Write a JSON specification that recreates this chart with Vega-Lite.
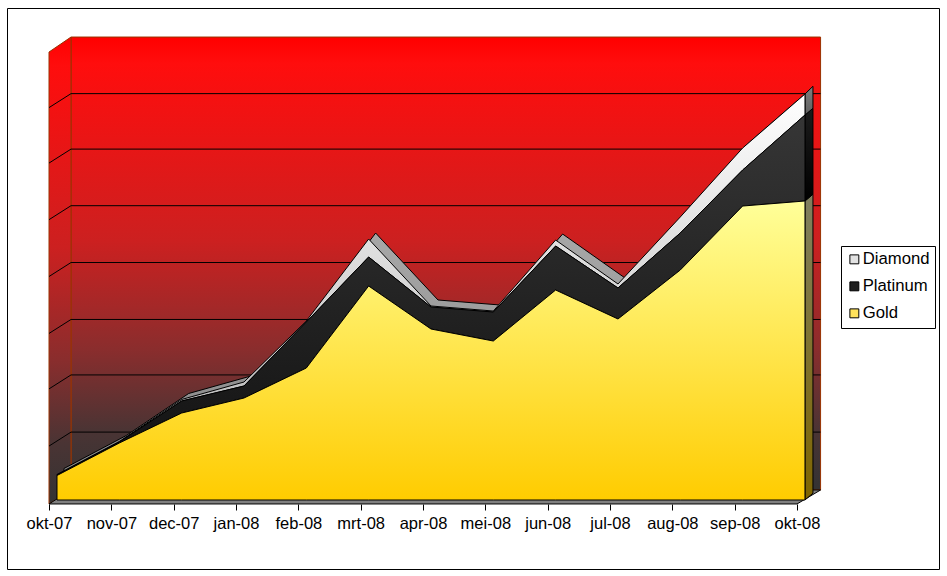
{
"$schema":"https://vega.github.io/schema/vega-lite/v6.json",
"width":932,"height":561,
"padding":{"left":7,"top":8,"right":8,"bottom":7},
"autosize":{"type":"none"},
"background":"white",
"config":{"view":{"stroke":"black","strokeWidth":1},"font":"Liberation Sans"},
"datasets":{
"stack":[
{"x":0,"series":"Gold","rank":1,"value":0.433},{"x":1,"series":"Gold","rank":1,"value":1.007},{"x":2,"series":"Gold","rank":1,"value":1.537},{"x":3,"series":"Gold","rank":1,"value":1.802},{"x":4,"series":"Gold","rank":1,"value":2.332},{"x":5,"series":"Gold","rank":1,"value":3.781},{"x":6,"series":"Gold","rank":1,"value":3.021},{"x":7,"series":"Gold","rank":1,"value":2.809},{"x":8,"series":"Gold","rank":1,"value":3.71},{"x":9,"series":"Gold","rank":1,"value":3.198},{"x":10,"series":"Gold","rank":1,"value":4.064},{"x":11,"series":"Gold","rank":1,"value":5.194},{"x":12,"series":"Gold","rank":1,"value":5.283},
{"x":0,"series":"Platinum","rank":2,"value":0.009},{"x":1,"series":"Platinum","rank":2,"value":0.018},{"x":2,"series":"Platinum","rank":2,"value":0.212},{"x":3,"series":"Platinum","rank":2,"value":0.212},{"x":4,"series":"Platinum","rank":2,"value":0.813},{"x":5,"series":"Platinum","rank":2,"value":0.512},{"x":6,"series":"Platinum","rank":2,"value":0.389},{"x":7,"series":"Platinum","rank":2,"value":0.512},{"x":8,"series":"Platinum","rank":2,"value":0.777},{"x":9,"series":"Platinum","rank":2,"value":0.548},{"x":10,"series":"Platinum","rank":2,"value":0.654},{"x":11,"series":"Platinum","rank":2,"value":0.636},{"x":12,"series":"Platinum","rank":2,"value":1.519},
{"x":0,"series":"Diamond","rank":3,"value":0.009},{"x":1,"series":"Diamond","rank":3,"value":0.009},{"x":2,"series":"Diamond","rank":3,"value":0.027},{"x":3,"series":"Diamond","rank":3,"value":0.071},{"x":4,"series":"Diamond","rank":3,"value":0.018},{"x":5,"series":"Diamond","rank":3,"value":0.318},{"x":6,"series":"Diamond","rank":3,"value":0.018},{"x":7,"series":"Diamond","rank":3,"value":0.018},{"x":8,"series":"Diamond","rank":3,"value":0.106},{"x":9,"series":"Diamond","rank":3,"value":0.071},{"x":10,"series":"Diamond","rank":3,"value":0.283},{"x":11,"series":"Diamond","rank":3,"value":0.389},{"x":12,"series":"Diamond","rank":3,"value":0.371}
],
"grid":[
{"k":1,"x":-0.128,"y":0.953},{"k":1,"x":0.225,"y":1.2},{"k":1,"x":12.25,"y":1.2},
{"k":2,"x":-0.128,"y":1.963},{"k":2,"x":0.225,"y":2.21},{"k":2,"x":12.25,"y":2.21},
{"k":3,"x":-0.128,"y":2.943},{"k":3,"x":0.225,"y":3.19},{"k":3,"x":12.25,"y":3.19},
{"k":4,"x":-0.128,"y":3.949},{"k":4,"x":0.225,"y":4.196},{"k":4,"x":12.25,"y":4.196},
{"k":5,"x":-0.128,"y":4.953},{"k":5,"x":0.225,"y":5.2},{"k":5,"x":12.25,"y":5.2},
{"k":6,"x":-0.128,"y":5.953},{"k":6,"x":0.225,"y":6.2},{"k":6,"x":12.25,"y":6.2},
{"k":7,"x":-0.128,"y":6.933},{"k":7,"x":0.225,"y":7.18},{"k":7,"x":12.25,"y":7.18}
]
},
"encoding":{
"x":{"field":"x","type":"quantitative","title":null,"scale":{"domain":[-0.802,14.15],"nice":false,"zero":false},
"axis":{"values":[-0.128,0.872,1.872,2.872,3.872,4.872,5.872,6.872,7.872,8.872,9.872,10.872,11.872],"offset":-65,"grid":false,"domain":false,"ticks":true,"tickSize":6,"tickColor":"black","labelFont":"Liberation Sans","labelFontSize":16.5,"labelColor":"black","labelPadding":5,"labelOverlap":false,"labelExpr":"['okt-07','nov-07','dec-07','jan-08','feb-08','mrt-08','apr-08','mei-08','jun-08','jul-08','aug-08','sep-08','okt-08'][round(datum.value+0.128)]"}},
"y":{"field":"y","type":"quantitative","title":null,"scale":{"domain":[-1.219,8.693],"nice":false,"zero":false},"axis":null}
},
"layer":[
{"data":{"values":[{"x":0.225,"x2":12.25,"y":8.18,"y2":0.177}]},
"mark":{"type":"rect","stroke":"#993300","strokeWidth":1,"fill":{"gradient":"linear","x1":0,"y1":0,"x2":0,"y2":1,"stops":[{"offset":0,"color":"#ff0000"},{"offset":0.06,"color":"#ff0d0d"},{"offset":0.45,"color":"#cc2020"},{"offset":0.69,"color":"#8a2d2d"},{"offset":0.87,"color":"#4a3434"},{"offset":1,"color":"#333333"}]}},
"encoding":{"x2":{"field":"x2"},"y2":{"field":"y2"}}},
{"data":{"values":[{"x":-0.128,"y":7.915,"y2":-0.07},{"x":0.225,"y":8.18,"y2":0.177}]},
"mark":{"type":"area","stroke":"#993300","strokeWidth":1,"fill":{"gradient":"linear","x1":0,"y1":0,"x2":0,"y2":1,"stops":[{"offset":0,"color":"#ff0000"},{"offset":0.06,"color":"#ff0d0d"},{"offset":0.45,"color":"#cc2020"},{"offset":0.69,"color":"#8a2d2d"},{"offset":0.87,"color":"#4a3434"},{"offset":1,"color":"#333333"}]}},
"encoding":{"y2":{"field":"y2"}}},
{"data":{"values":[{"x":-0.128,"y":-0.07,"y2":-0.07},{"x":0.225,"y":0.177,"y2":-0.07},{"x":11.872,"y":0.177,"y2":-0.07},{"x":12.25,"y":0.177,"y2":0.177}]},
"mark":{"type":"area","stroke":"black","strokeWidth":1,"fill":"#808080"},
"encoding":{"y2":{"field":"y2"}}},
{"data":{"name":"grid"},"mark":{"type":"line","stroke":"black","strokeWidth":1},"encoding":{"detail":{"field":"k"}}},
{"data":{"name":"stack"},
"transform":[{"stack":"value","groupby":["x"],"sort":[{"field":"rank","order":"ascending"}],"as":["y2","y"]},{"filter":"datum.series==='Diamond'"}],
"mark":{"type":"area","xOffset":7,"yOffset":-6,"y2Offset":-6,"stroke":"black","strokeWidth":1,"fill":{"gradient":"linear","x1":0,"y1":0,"x2":0,"y2":1,"stops":[{"offset":0,"color":"#b8b8b8"},{"offset":0.5,"color":"#a0a0a0"},{"offset":1,"color":"#808080"}]}},
"encoding":{"y2":{"datum":0}}},
{"data":{"values":[{"x":12,"y":5.283,"y2":0},{"x":12.128,"y":5.403,"y2":0.12}]},
"mark":{"type":"area","stroke":"black","strokeWidth":1,"fill":{"gradient":"linear","x1":0,"y1":0,"x2":0,"y2":1,"stops":[{"offset":0,"color":"#808060"},{"offset":1,"color":"#806600"}]}},
"encoding":{"y2":{"field":"y2"}}},
{"data":{"values":[{"x":12,"y":6.802,"y2":5.283},{"x":12.128,"y":6.922,"y2":5.403}]},
"mark":{"type":"area","stroke":"black","strokeWidth":1,"fill":{"gradient":"linear","x1":0,"y1":0,"x2":0,"y2":1,"stops":[{"offset":0,"color":"#1c1c1c"},{"offset":1,"color":"#000000"}]}},
"encoding":{"y2":{"field":"y2"}}},
{"data":{"values":[{"x":12,"y":7.173,"y2":6.802},{"x":12.128,"y":7.31,"y2":6.922}]},
"mark":{"type":"area","stroke":"black","strokeWidth":1,"fill":{"gradient":"linear","x1":0,"y1":0,"x2":0,"y2":1,"stops":[{"offset":0,"color":"#808080"},{"offset":1,"color":"#606060"}]}},
"encoding":{"y2":{"field":"y2"}}},
{"data":{"name":"stack"},
"transform":[{"stack":"value","groupby":["x"],"sort":[{"field":"rank","order":"ascending"}],"as":["y2","y"]},{"filter":"datum.series==='Diamond'"}],
"mark":{"type":"area","stroke":"black","strokeWidth":1,"fill":{"gradient":"linear","x1":0,"y1":0,"x2":0,"y2":1,"stops":[{"offset":0,"color":"#ffffff"},{"offset":1,"color":"#b0b0b0"}]}},
"encoding":{"y2":{"field":"y2"}}},
{"data":{"name":"stack"},
"transform":[{"stack":"value","groupby":["x"],"sort":[{"field":"rank","order":"ascending"}],"as":["y2","y"]},{"filter":"datum.series==='Platinum'"}],
"mark":{"type":"area","stroke":"black","strokeWidth":1,"fill":{"gradient":"linear","x1":0,"y1":0,"x2":0,"y2":1,"stops":[{"offset":0,"color":"#363636"},{"offset":1,"color":"#111111"}]}},
"encoding":{"y2":{"field":"y2"}}},
{"data":{"name":"stack"},
"transform":[{"stack":"value","groupby":["x"],"sort":[{"field":"rank","order":"ascending"}],"as":["y2","y"]},{"filter":"datum.series==='Gold'"}],
"mark":{"type":"area","stroke":"black","strokeWidth":1,"fill":{"gradient":"linear","x1":0,"y1":0,"x2":0,"y2":1,"stops":[{"offset":0,"color":"#ffff99"},{"offset":1,"color":"#ffcc00"}]}},
"encoding":{"y2":{"field":"y2"}}},
{"data":{"name":"stack"},
"transform":[{"stack":"value","groupby":["x"],"sort":[{"field":"rank","order":"ascending"}],"as":["y2","y"]}],
"mark":{"type":"point","filled":true,"opacity":0},
"encoding":{
"color":{"field":"series","type":"nominal",
"scale":{"domain":["Diamond","Platinum","Gold"],"range":["#e2e2e2","#202020","#ffe25a"]},
"legend":{"orient":"none","legendX":834,"legendY":238,"title":null,"direction":"vertical","strokeColor":"black","fillColor":"white","padding":5,"symbolType":"square","symbolSize":80,"symbolOpacity":1,"symbolStrokeColor":"black","symbolStrokeWidth":1,"labelFont":"Liberation Sans","labelFontSize":16.7,"labelColor":"black","rowPadding":9,"labelOffset":0,"labelLimit":200}}}}
]
}
